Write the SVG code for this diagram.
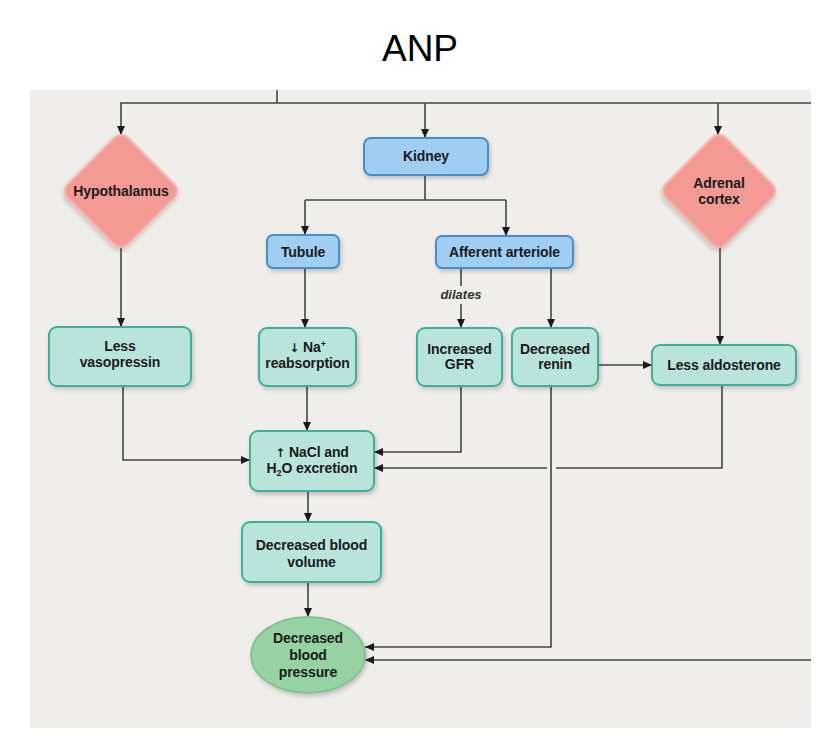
<svg xmlns="http://www.w3.org/2000/svg" width="831" height="745" viewBox="0 0 831 745">
<style>
.t{font-family:"Liberation Sans",Arial,sans-serif;font-weight:bold;font-size:14px;fill:#1a1a1a;text-anchor:middle;letter-spacing:-0.1px}
.ar{font-family:"DejaVu Sans",sans-serif;font-size:12px}
.teal{fill:#b9e4dc;stroke:#3fae9f;stroke-width:2}
.blue{fill:#a0cef2;stroke:#4b8dc5;stroke-width:2}
.pink{fill:#f39a94;stroke:#f6b3ad;stroke-width:2}
.green{fill:#96d2a2;stroke:#86c193;stroke-width:2}
.c{fill:none;stroke:#444;stroke-width:1.6}
</style>
<defs>
<marker id="ah" markerWidth="10" markerHeight="10" refX="9" refY="5" orient="auto" markerUnits="userSpaceOnUse">
<path d="M0,1 L9,5 L0,9 Z" fill="#1a1a1a"/>
</marker>
<filter id="sh" x="-20%" y="-20%" width="140%" height="150%">
<feDropShadow dx="1.5" dy="2.5" stdDeviation="2" flood-color="#000" flood-opacity="0.2"/>
</filter>
</defs>
<rect width="831" height="745" fill="#ffffff"/>
<rect x="30" y="90" width="781" height="638" fill="#f0eeea"/>
<text x="420" y="61" style="font-family:'Liberation Sans',Arial,sans-serif;font-size:37px;fill:#000" text-anchor="middle">ANP</text>

<g id="connectors">
<path class="c" d="M277,90 V103"/>
<path class="c" d="M120,103 H811"/>
<path class="c" d="M121,103 V135" marker-end="url(#ah)"/>
<path class="c" d="M425,103 V138" marker-end="url(#ah)"/>
<path class="c" d="M718,103 V135" marker-end="url(#ah)"/>
<path class="c" d="M425,175 V200"/>
<path class="c" d="M305,200 H506"/>
<path class="c" d="M305,200 V235" marker-end="url(#ah)"/>
<path class="c" d="M506,200 V236" marker-end="url(#ah)"/>
<path class="c" d="M121,247 V327" marker-end="url(#ah)"/>
<path class="c" d="M305,268 V328" marker-end="url(#ah)"/>
<path class="c" d="M461,268 V286"/>
<path class="c" d="M461,304 V328" marker-end="url(#ah)"/>
<path class="c" d="M551,268 V328" marker-end="url(#ah)"/>
<path class="c" d="M720,247 V345" marker-end="url(#ah)"/>
<path class="c" d="M598,365 H652" marker-end="url(#ah)"/>
<path class="c" d="M123,386 V460 H250" marker-end="url(#ah)"/>
<path class="c" d="M307,386 V431" marker-end="url(#ah)"/>
<path class="c" d="M461,386 V452 H374" marker-end="url(#ah)"/>
<path class="c" d="M722,385 V468 H556"/>
<path class="c" d="M547,468 H374" marker-end="url(#ah)"/>
<path class="c" d="M551,386 V647 H365" marker-end="url(#ah)"/>
<path class="c" d="M811,660 H365" marker-end="url(#ah)"/>
<path class="c" d="M308,491 V522" marker-end="url(#ah)"/>
<path class="c" d="M308,582 V617" marker-end="url(#ah)"/>
<text x="461" y="299" style="font-family:'Liberation Sans',Arial,sans-serif;font-weight:bold;font-style:italic;font-size:13px;fill:#333" text-anchor="middle">dilates</text>
</g>

<g id="hypothalamus">
<rect class="pink" x="-42.5" y="-42.5" width="85" height="85" rx="10" transform="translate(121,191) rotate(45)" filter="url(#sh)"/>
<text class="t" x="121" y="196">Hypothalamus</text>
</g>
<g id="kidney">
<rect class="blue" x="364" y="138" width="124" height="37" rx="7" filter="url(#sh)"/>
<text class="t" x="426" y="161">Kidney</text>
</g>
<g id="adrenal-cortex">
<rect class="pink" x="-42.5" y="-42.5" width="85" height="85" rx="10" transform="translate(719,191) rotate(45)" filter="url(#sh)"/>
<text class="t" x="719" y="188">Adrenal</text>
<text class="t" x="719" y="204">cortex</text>
</g>
<g id="tubule">
<rect class="blue" x="267" y="235" width="72" height="33" rx="6" filter="url(#sh)"/>
<text class="t" x="303" y="256.5">Tubule</text>
</g>
<g id="afferent-arteriole">
<rect class="blue" x="436" y="236" width="137" height="32" rx="6" filter="url(#sh)"/>
<text class="t" x="504.5" y="257">Afferent arteriole</text>
</g>
<g id="less-vasopressin">
<rect class="teal" x="49" y="327" width="142" height="59" rx="8" filter="url(#sh)"/>
<text class="t" x="120" y="351">Less</text>
<text class="t" x="120" y="367">vasopressin</text>
</g>
<g id="na-reabsorption">
<rect class="teal" x="259" y="328" width="97" height="58" rx="8" filter="url(#sh)"/>
<text class="t" x="307.5" y="352"><tspan class="ar">↓</tspan> Na<tspan font-size="9" dy="-5">+</tspan></text>
<text class="t" x="307.5" y="368">reabsorption</text>
</g>
<g id="increased-gfr">
<rect class="teal" x="417" y="328" width="85" height="58" rx="8" filter="url(#sh)"/>
<text class="t" x="459.5" y="354">Increased</text>
<text class="t" x="459.5" y="369">GFR</text>
</g>
<g id="decreased-renin">
<rect class="teal" x="512" y="328" width="86" height="58" rx="8" filter="url(#sh)"/>
<text class="t" x="555" y="354">Decreased</text>
<text class="t" x="555" y="369">renin</text>
</g>
<g id="less-aldosterone">
<rect class="teal" x="652" y="345" width="144" height="40" rx="8" filter="url(#sh)"/>
<text class="t" x="724" y="370">Less aldosterone</text>
</g>
<g id="nacl-excretion">
<rect class="teal" x="250" y="431" width="124" height="60" rx="8" filter="url(#sh)"/>
<text class="t" x="312" y="457"><tspan class="ar">↑</tspan> NaCl and</text>
<text class="t" x="312" y="473">H<tspan font-size="9" dy="3">2</tspan><tspan dy="-3">O excretion</tspan></text>
</g>
<g id="decreased-blood-volume">
<rect class="teal" x="242" y="522" width="139" height="60" rx="8" filter="url(#sh)"/>
<text class="t" x="311.5" y="550">Decreased blood</text>
<text class="t" x="311.5" y="567">volume</text>
</g>
<g id="decreased-blood-pressure">
<ellipse class="green" cx="308" cy="655" rx="57" ry="38" filter="url(#sh)"/>
<text class="t" x="308" y="643">Decreased</text>
<text class="t" x="308" y="660">blood</text>
<text class="t" x="308" y="677">pressure</text>
</g>
</svg>
